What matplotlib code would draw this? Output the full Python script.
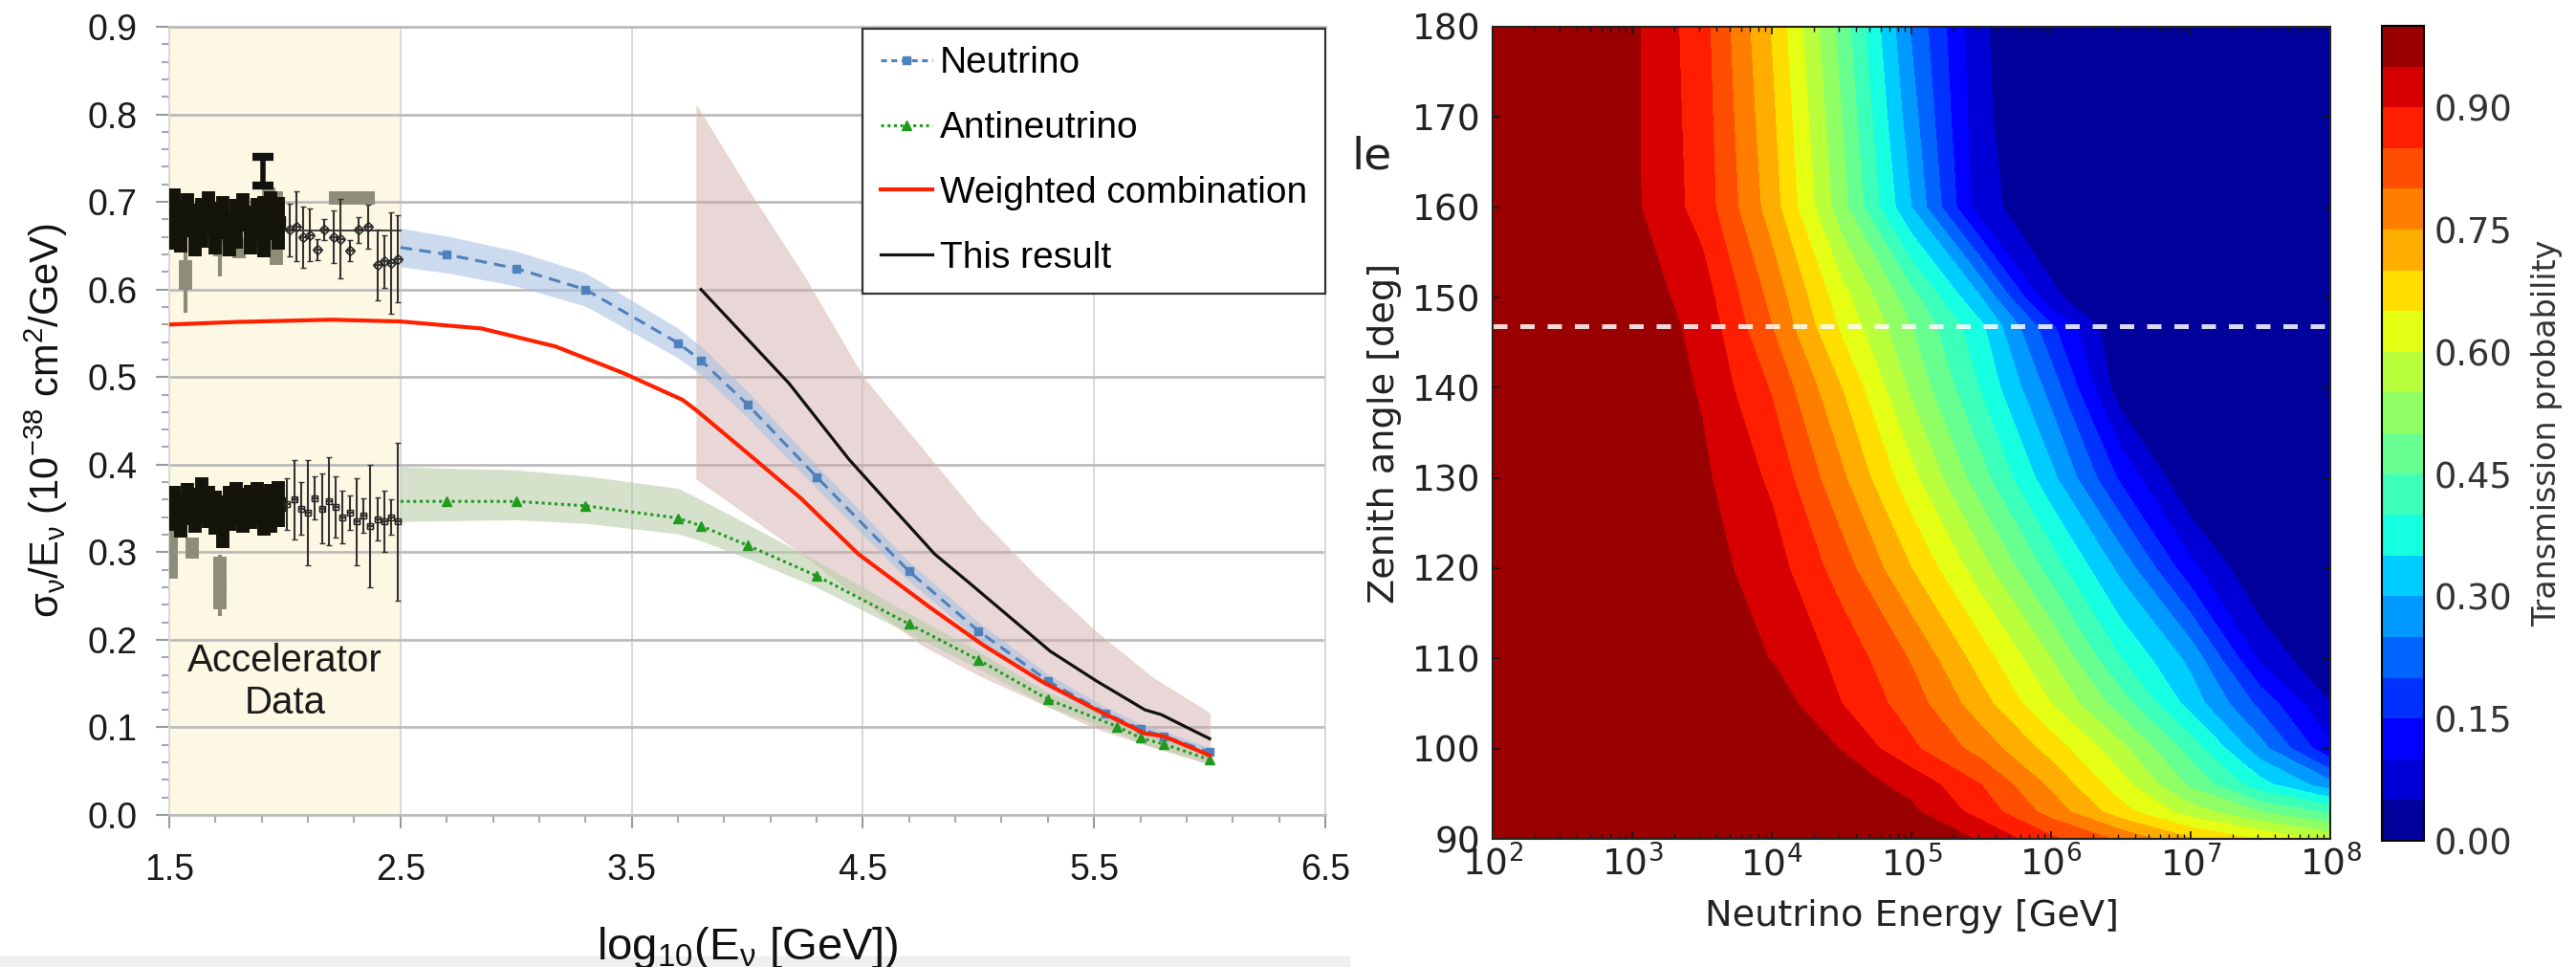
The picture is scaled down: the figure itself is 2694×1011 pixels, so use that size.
import numpy as np
import matplotlib
matplotlib.use('Agg')
import matplotlib.pyplot as plt
from matplotlib.lines import Line2D
from matplotlib.patches import Rectangle

plt.rcParams['font.family'] = ['Liberation Sans', 'DejaVu Sans']
plt.rcParams['mathtext.fontset'] = 'custom'
plt.rcParams['mathtext.rm'] = 'Liberation Sans'
plt.rcParams['mathtext.it'] = 'Liberation Sans'
plt.rcParams['mathtext.bf'] = 'Liberation Sans:bold'
plt.rcParams['mathtext.sf'] = 'Liberation Sans'

# ---- left panel: cross section / energy ----
nu_x = [2.5, 2.7, 3.0, 3.3, 3.7, 3.8, 4.0, 4.3, 4.7, 5.0, 5.3, 5.55, 5.7, 5.8, 6.0]
nu_y = [0.648, 0.640, 0.624, 0.600, 0.539, 0.519, 0.469, 0.386, 0.278, 0.210, 0.153, 0.116, 0.098, 0.090, 0.072]
nu_err = [0.022, 0.021, 0.020, 0.019, 0.017, 0.016, 0.015, 0.013, 0.011, 0.010, 0.008, 0.007, 0.006, 0.006, 0.005]

anu_x = [2.5, 2.7, 3.0, 3.3, 3.7, 3.8, 4.0, 4.3, 4.7, 5.0, 5.3, 5.6, 5.7, 5.8, 6.0]
anu_y = [0.358, 0.358, 0.358, 0.353, 0.339, 0.330, 0.308, 0.273, 0.218, 0.177, 0.132, 0.101, 0.088, 0.081, 0.063]
anu_hi = [0.040, 0.038, 0.036, 0.034, 0.034, 0.030, 0.024, 0.017, 0.012, 0.010, 0.008, 0.007, 0.006, 0.006, 0.005]
anu_lo = [0.023, 0.022, 0.021, 0.020, 0.018, 0.017, 0.015, 0.013, 0.011, 0.010, 0.008, 0.007, 0.006, 0.006, 0.005]

comb_x = [1.5, 1.8, 2.2, 2.5, 2.85, 3.17, 3.46, 3.72, 3.78, 3.97, 4.23, 4.48, 4.79, 5.02, 5.27, 5.51, 5.72, 5.80, 6.0]
comb_y = [0.560, 0.563, 0.5655, 0.5635, 0.5555, 0.535, 0.505, 0.474, 0.462, 0.420, 0.362, 0.298, 0.237, 0.194, 0.153, 0.120, 0.093, 0.090, 0.068]

res_x = [3.8, 4.18, 4.44, 4.59, 4.81, 4.96, 5.31, 5.51, 5.72, 5.79, 6.0]
res_y = [0.600, 0.493, 0.406, 0.362, 0.298, 0.265, 0.187, 0.153, 0.120, 0.1146, 0.087]

band_x = [3.78, 4.0, 4.25, 4.5, 4.75, 5.0, 5.25, 5.5, 5.75, 6.0]
band_hi = [0.810, 0.715, 0.613, 0.500, 0.420, 0.340, 0.272, 0.211, 0.157, 0.116]
band_lo = [0.384, 0.343, 0.296, 0.245, 0.195, 0.160, 0.130, 0.100, 0.078, 0.058]

# accelerator data, neutrino
nu_acc_x = [1.52, 1.55, 1.58, 1.61, 1.64, 1.67, 1.70, 1.73, 1.76, 1.79, 1.82, 1.85, 1.88, 1.91, 1.94, 1.97]
nu_acc_y = [0.680, 0.672, 0.685, 0.668, 0.676, 0.690, 0.670, 0.682, 0.660, 0.675, 0.688, 0.668, 0.680, 0.672, 0.684, 0.676]
nu_acc_e = [0.035, 0.030, 0.025, 0.030, 0.028, 0.022, 0.030, 0.025, 0.022, 0.028, 0.022, 0.028, 0.025, 0.035, 0.028, 0.030]
nu_gray_x = [1.57, 1.72, 1.80, 1.87, 1.93, 1.965, 2.29]
nu_gray_y = [0.617, 0.650, 0.648, 0.668, 0.688, 0.670, 0.704]
nu_gray_e = [0.017, 0.012, 0.012, 0.018, 0.028, 0.042, 0.003]
nu_gray_xe = [0.0, 0.0, 0.0, 0.0, 0.0, 0.0, 0.10]
nu_thin_x = [2.02, 2.05, 2.08, 2.11, 2.14, 2.17, 2.21, 2.24, 2.28, 2.32, 2.36, 2.40, 2.43, 2.46, 2.49]
nu_thin_y = [0.668, 0.672, 0.660, 0.662, 0.645, 0.668, 0.660, 0.658, 0.644, 0.668, 0.672, 0.628, 0.632, 0.630, 0.635]
nu_thin_e = [0.030, 0.040, 0.035, 0.030, 0.012, 0.012, 0.030, 0.045, 0.012, 0.015, 0.025, 0.040, 0.030, 0.058, 0.050]

# accelerator data, antineutrino
anu_acc_x = [1.52, 1.55, 1.58, 1.61, 1.64, 1.67, 1.70, 1.73, 1.76, 1.79, 1.82, 1.85, 1.88, 1.91, 1.94, 1.97]
anu_acc_y = [0.350, 0.342, 0.355, 0.348, 0.360, 0.352, 0.345, 0.335, 0.350, 0.356, 0.348, 0.352, 0.356, 0.345, 0.350, 0.355]
anu_acc_e = [0.026, 0.025, 0.024, 0.026, 0.026, 0.024, 0.025, 0.030, 0.026, 0.024, 0.026, 0.025, 0.024, 0.026, 0.028, 0.026]
anu_gray_x = [1.51, 1.60, 1.72, 1.72]
anu_gray_y = [0.300, 0.305, 0.275, 0.250]
anu_gray_e = [0.030, 0.012, 0.020, 0.015]
anu_thin_x = [2.01, 2.04, 2.07, 2.10, 2.13, 2.16, 2.19, 2.22, 2.25, 2.28, 2.31, 2.34, 2.37, 2.40, 2.43, 2.46, 2.49]
anu_thin_y = [0.355, 0.360, 0.350, 0.345, 0.362, 0.350, 0.358, 0.352, 0.340, 0.345, 0.335, 0.342, 0.330, 0.338, 0.335, 0.340, 0.335]
anu_thin_e = [0.030, 0.045, 0.030, 0.060, 0.025, 0.040, 0.050, 0.035, 0.030, 0.020, 0.050, 0.020, 0.070, 0.025, 0.035, 0.020, 0.090]

x_ticks = [1.5, 2.5, 3.5, 4.5, 5.5, 6.5]

# ---- right panel: transmission probability ----
log_energy = [2.0, 2.5, 3.0, 3.5, 4.0, 4.5, 5.0, 5.5, 6.0, 6.5, 7.0, 7.5, 8.0]
zenith = [90, 93, 96, 100, 105, 110, 120, 130, 140, 146.8, 150, 160, 170, 180]
transmission = [
    [1.0, 1.0, 1.0, 1.0, 0.998, 0.995, 0.990, 0.945, 0.860, 0.790, 0.705, 0.645, 0.585],
    [1.0, 1.0, 1.0, 0.998, 0.990, 0.980, 0.960, 0.880, 0.780, 0.670, 0.575, 0.500, 0.440],
    [1.0, 1.0, 1.0, 0.996, 0.988, 0.975, 0.935, 0.850, 0.740, 0.620, 0.490, 0.370, 0.270],
    [1.0, 1.0, 0.998, 0.995, 0.990, 0.948, 0.860, 0.780, 0.680, 0.565, 0.430, 0.270, 0.110],
    [1.0, 1.0, 0.997, 0.990, 0.980, 0.900, 0.825, 0.720, 0.600, 0.475, 0.330, 0.185, 0.050],
    [1.0, 1.0, 0.995, 0.985, 0.948, 0.885, 0.795, 0.675, 0.550, 0.400, 0.285, 0.090, 0.0],
    [1.0, 1.0, 0.995, 0.970, 0.925, 0.825, 0.700, 0.570, 0.430, 0.285, 0.115, 0.0, 0.0],
    [1.0, 0.998, 0.995, 0.960, 0.890, 0.760, 0.615, 0.470, 0.315, 0.140, 0.0, 0.0, 0.0],
    [1.0, 0.998, 0.990, 0.945, 0.845, 0.700, 0.540, 0.395, 0.230, 0.020, 0.0, 0.0, 0.0],
    [1.0, 0.998, 0.985, 0.935, 0.800, 0.640, 0.500, 0.360, 0.160, 0.0, 0.0, 0.0, 0.0],
    [1.0, 0.997, 0.980, 0.925, 0.785, 0.620, 0.470, 0.300, 0.060, 0.0, 0.0, 0.0, 0.0],
    [1.0, 0.995, 0.960, 0.880, 0.725, 0.520, 0.300, 0.068, 0.010, 0.0, 0.0, 0.0, 0.0],
    [1.0, 0.992, 0.960, 0.875, 0.710, 0.500, 0.270, 0.058, 0.010, 0.0, 0.0, 0.0, 0.0],
    [1.0, 0.990, 0.960, 0.870, 0.695, 0.480, 0.245, 0.055, 0.010, 0.0, 0.0, 0.0, 0.0],
]
core_zenith = 146.8
cbar_ticks = [0.0, 0.15, 0.30, 0.45, 0.60, 0.75, 0.90]

W, H = 2694, 1011
fig = plt.figure(figsize=(W / 100, H / 100), dpi=100)

# ======== left ========
ax1 = fig.add_axes([177 / W, 1 - 852 / H, (1386 - 177) / W, (852 - 28) / H])
ax1.set_xlim(1.5, 6.5)
ax1.set_ylim(0, 0.9)
ax1.axvspan(1.5, 2.5, color='#fdf8e3', zorder=0)

ax1.fill_between(band_x, band_lo, band_hi, facecolor='#cfa8a8', alpha=0.45,
                 edgecolor='#e2cbb8', lw=1.2, zorder=1)
nu_y_a = np.array(nu_y)
nu_e_a = np.array(nu_err)
ax1.fill_between(nu_x, nu_y_a - nu_e_a, nu_y_a + nu_e_a, color='#a9c2e2', alpha=0.6, lw=0, zorder=1.5)
anu_y_a = np.array(anu_y)
ax1.fill_between(anu_x, anu_y_a - np.array(anu_lo), anu_y_a + np.array(anu_hi),
                 color='#b9cda9', alpha=0.6, lw=0, zorder=1.5)

ax1.plot(nu_x, nu_y, color='#4f81bd', lw=2.2, dashes=(4, 2.5), zorder=3)
ax1.plot(nu_x[1:], nu_y[1:], 's', color='#4f81bd', ms=5.5, zorder=3)
ax1.plot(anu_x, anu_y, color='#1f9a1f', lw=2.2, dashes=(1, 1.2), zorder=3)
ax1.plot(anu_x[1:], anu_y[1:], '^', color='#1f9a1f', ms=6.5, zorder=3)
ax1.plot(comb_x, comb_y, color='#ff2000', lw=3.0, zorder=3.2)
ax1.plot(res_x, res_y, color='#111111', lw=2.3, zorder=3.3)

# accelerator measurements
ax1.errorbar(nu_gray_x, nu_gray_y, yerr=nu_gray_e, xerr=nu_gray_xe, fmt='none',
             ecolor='#8d8d7a', elinewidth=10, capsize=0, zorder=3.5)
ax1.errorbar([1.57, 1.72], [0.617, 0.650], yerr=[0.044, 0.035], fmt='none',
             ecolor='#8d8d7a', elinewidth=3, capsize=0, zorder=3.4)
ax1.errorbar(nu_acc_x, nu_acc_y, yerr=nu_acc_e, fmt='s', color='#14140a', ms=10,
             elinewidth=10, capsize=0, zorder=3.6)
ax1.errorbar([1.905], [0.735], yerr=[0.016], fmt='none', ecolor='#111111',
             elinewidth=4, capsize=8, capthick=6, zorder=3.6)
ax1.errorbar(nu_thin_x, nu_thin_y, yerr=nu_thin_e, xerr=0.012, fmt='D', ms=5, mfc='none',
             mec='#222222', ecolor='#333333', elinewidth=1.5, capsize=2, zorder=3.7)
ax1.plot([2.0, 2.5], [0.667, 0.667], color='#333333', lw=1.3, zorder=3.7)

ax1.errorbar(anu_gray_x, anu_gray_y, yerr=anu_gray_e, fmt='none',
             ecolor='#8d8d7a', elinewidth=10, capsize=0, zorder=3.5)
ax1.errorbar([1.72], [0.262], yerr=[0.035], fmt='none', ecolor='#8d8d7a',
             elinewidth=3, capsize=0, zorder=3.4)
ax1.errorbar(anu_acc_x, anu_acc_y, yerr=anu_acc_e, fmt='s', color='#14140a', ms=10,
             elinewidth=10, capsize=0, zorder=3.6)
ax1.errorbar(anu_thin_x, anu_thin_y, yerr=anu_thin_e, xerr=0.012, fmt='s', ms=5, mfc='none',
             mec='#222222', ecolor='#333333', elinewidth=1.5, capsize=2, zorder=3.7)

ax1.text(2.0, 0.152, 'Accelerator\nData', ha='center', va='center', fontsize=29,
         color='#1a1a1a', linespacing=1.2, zorder=5)

ax1.set_xticks(x_ticks)
ax1.set_xticks(np.arange(1.5, 6.51, 0.2), minor=True)
ax1.set_yticks(np.arange(0, 0.91, 0.1))
ax1.set_yticks(np.arange(0, 0.91, 0.02), minor=True)
ax1.set_yticklabels(['%.1f' % v for v in np.arange(0, 0.91, 0.1)])
ax1.tick_params(which='major', direction='out', color='#9a9a9a', length=10, width=1.5,
                labelsize=27, labelcolor='#1a1a1a')
ax1.tick_params(which='minor', direction='out', color='#a8a8a8', length=6, width=1.5)
ax1.tick_params(axis='x', which='major', pad=19)
ax1.tick_params(axis='y', which='major', pad=14)
ax1.xaxis.grid(True, which='major', color='#d6d6d6', lw=1.3, zorder=0.5)
ax1.yaxis.grid(True, which='major', color='#bcbcbc', lw=2.0, zorder=0.5)
ax1.set_axisbelow(True)
for side in ['top', 'bottom']:
    ax1.spines[side].set_color('#bcbcbc')
    ax1.spines[side].set_linewidth(2.0)
for side in ['left', 'right']:
    ax1.spines[side].set_color('#d6d6d6')
    ax1.spines[side].set_linewidth(1.3)

ax1.set_xlabel(r'$\mathrm{log_{10}(E_{\nu}\ [GeV])}$', fontsize=34, color='#111111', labelpad=28)
ax1.set_ylabel(r'$\mathrm{\sigma_{\nu}/E_{\nu}\ (10^{-38}\ cm^{2}/GeV)}$', fontsize=30,
               color='#111111', labelpad=13)

handles = [
    Line2D([], [], color='#4f81bd', lw=2.2, dashes=(2, 1.5), marker='s', ms=5.5),
    Line2D([], [], color='#1f9a1f', lw=2.2, dashes=(1, 1.2), marker='^', ms=6.5),
    Line2D([], [], color='#ff2000', lw=3.0),
    Line2D([], [], color='#111111', lw=2.3),
]
labels = ['Neutrino', 'Antineutrino', 'Weighted combination', 'This result']
leg = ax1.legend(handles, labels, loc='upper right', bbox_to_anchor=(1.0, 0.998),
                 borderaxespad=0, fontsize=28, handlelength=1.4, handletextpad=0.2,
                 labelspacing=0.82, borderpad=0.48, fancybox=False, framealpha=1,
                 edgecolor='#333333', numpoints=1)
leg.get_frame().set_linewidth(1.6)
leg.set_zorder(10)

# ======== right ========
ax2 = fig.add_axes([1561 / W, 1 - 877 / H, (2437 - 1561) / W, (877 - 28) / H])
cf = ax2.contourf(log_energy, zenith, np.array(transmission), levels=np.linspace(0, 1, 21),
                  cmap='jet')
ax2.axhline(core_zenith, color='white', alpha=0.85, lw=3.6, dashes=(3, 2.7))
ax2.set_xlim(2, 8)
ax2.set_ylim(90, 180)
ax2.set_xticks(range(2, 9))
ax2.set_xticklabels([r'$10^{%d}$' % k for k in range(2, 9)], math_fontfamily='dejavusans')
minor_pos = [np.log10(k) + n for n in range(2, 8) for k in range(2, 10)]
ax2.set_xticks(minor_pos, minor=True)
ax2.set_yticks(range(90, 181, 10))
for lab in ax2.get_yticklabels():
    lab.set_family('DejaVu Sans')
ax2.tick_params(which='major', direction='in', top=True, right=True, length=6, width=1.2,
                labelsize=27, labelcolor='#222222', color='#111111')
ax2.tick_params(which='minor', direction='in', top=True, right=True, length=3.5, width=1.0,
                color='#111111')
ax2.tick_params(axis='x', which='major', pad=5)
ax2.tick_params(axis='y', which='major', pad=9)
for s in ax2.spines.values():
    s.set_linewidth(1.5)
    s.set_color('#222222')
ax2.set_xlabel('Neutrino Energy [GeV]', family='DejaVu Sans', fontsize=27.5, color='#222222',
               labelpad=12)
ax2.set_ylabel('Zenith angle [deg]', family='DejaVu Sans', fontsize=27.5, color='#222222',
               labelpad=8)

cax = fig.add_axes([2491 / W, 1 - 879 / H, (2535 - 2491) / W, (879 - 27) / H])
cb = fig.colorbar(cf, cax=cax, ticks=cbar_ticks)
cb.ax.set_yticklabels(['%.2f' % t for t in cbar_ticks])
for lab in cb.ax.get_yticklabels():
    lab.set_family('DejaVu Sans')
cb.ax.tick_params(length=0, labelsize=26.5, labelcolor='#333333', pad=8)
cb.outline.set_linewidth(1.5)
cb.set_label('Transmission probability', family='DejaVu Sans', fontsize=24, color='#333333',
             labelpad=14)

fig.text(1413 / W, 1 - 177 / H, 'le', family='DejaVu Sans', fontsize=34, color='#222222',
         ha='left', va='baseline')
fig.patches.append(Rectangle((0, 0), 1411 / W, 11 / H, transform=fig.transFigure,
                             color='#efefef', zorder=-1))

fig.savefig('out.png', dpi=100)
